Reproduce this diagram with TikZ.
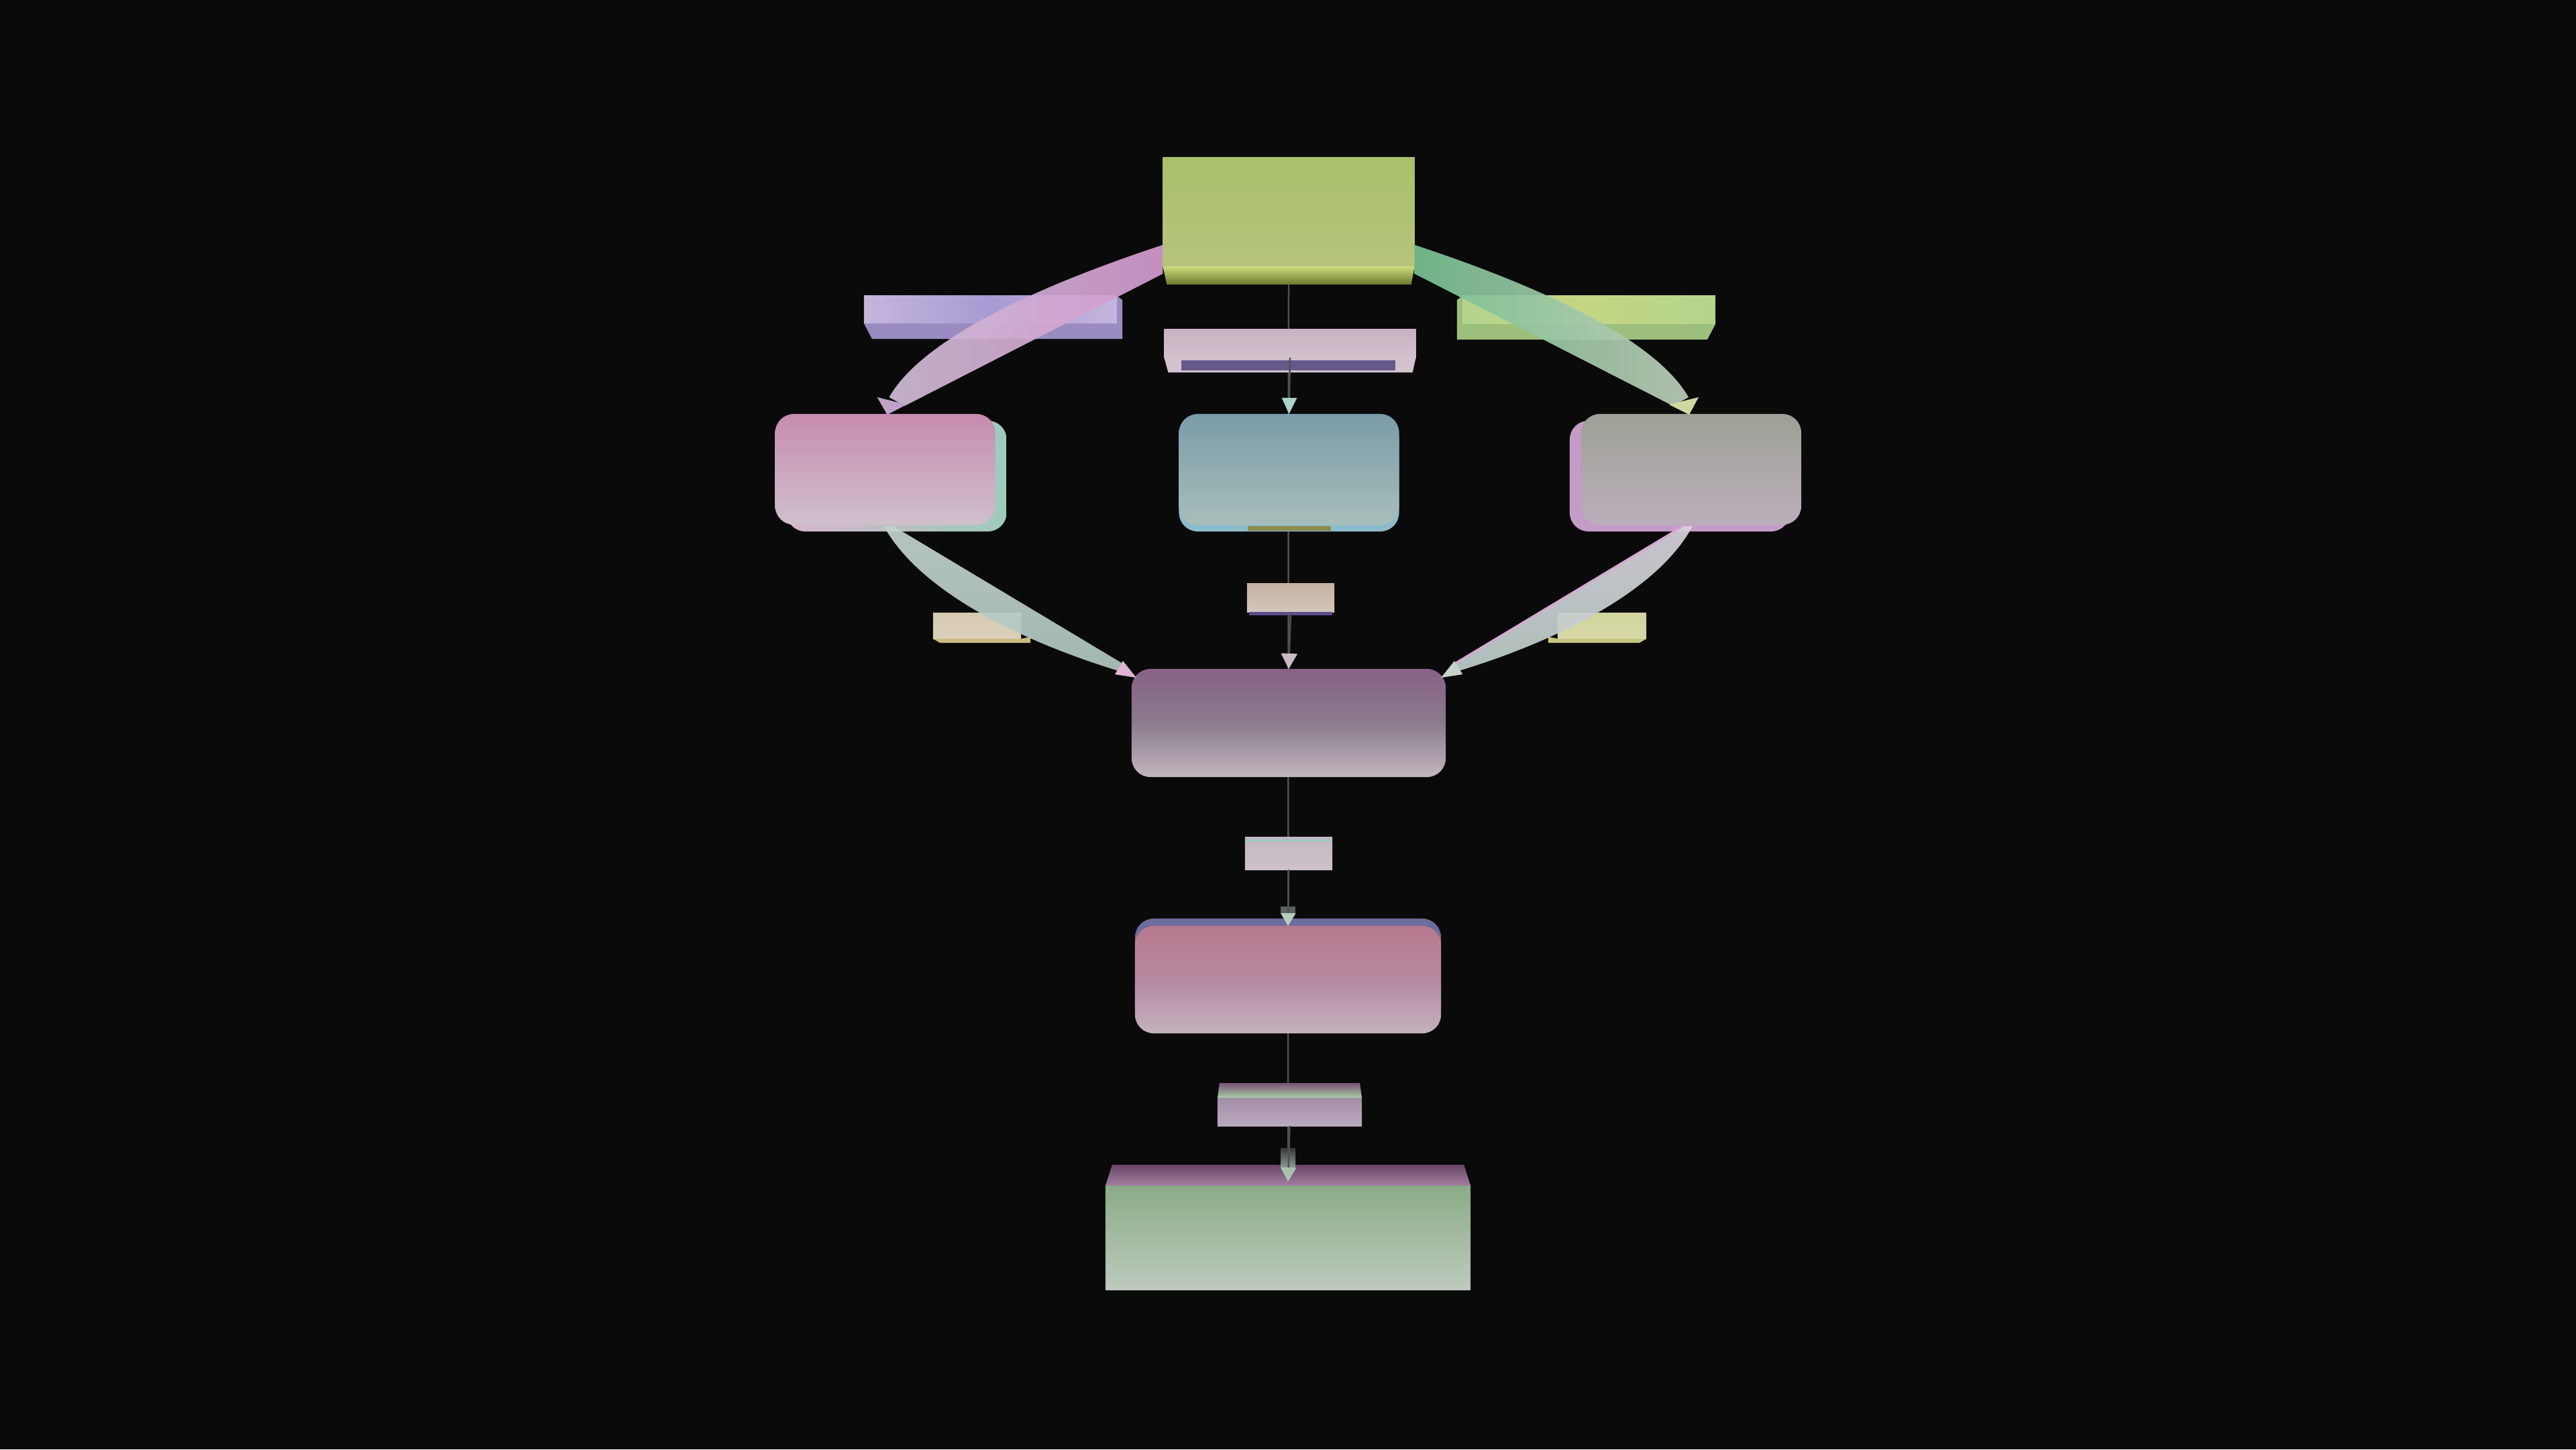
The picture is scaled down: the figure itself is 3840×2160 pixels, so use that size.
\documentclass[tikz,border=0pt]{standalone}
\usetikzlibrary{arrows.meta,positioning,calc}

\pgfdeclarelayer{behind}
\pgfsetlayers{behind,main}

\definecolor{bgblack}{HTML}{0A0A0A}
\definecolor{spinegray}{HTML}{505050}
\definecolor{srcA}{HTML}{A9C06A}
\definecolor{srcB}{HTML}{B6C47E}
\definecolor{srcEdge}{HTML}{CCDC7C}
\definecolor{srcDark}{HTML}{6A7A30}
\definecolor{lblA}{HTML}{C6B2C0}
\definecolor{lblB}{HTML}{D2C2CE}
\definecolor{lblPurple}{HTML}{66588A}
\definecolor{barLavL}{HTML}{C4B6DC}
\definecolor{barLavM}{HTML}{A89AD2}
\definecolor{barLavD}{HTML}{9A8CC0}
\definecolor{barGrnL}{HTML}{B4D48C}
\definecolor{barGrnM}{HTML}{C4D682}
\definecolor{barGrnD}{HTML}{9CC07C}
\definecolor{pinkA}{HTML}{C68CAE}
\definecolor{pinkB}{HTML}{D0C0CC}
\definecolor{pinkBack}{HTML}{D8B4CC}
\definecolor{pinkEdge}{HTML}{9CCCBC}
\definecolor{blueA}{HTML}{7A9CA8}
\definecolor{blueB}{HTML}{A8BEBA}
\definecolor{blueBack}{HTML}{8CBCCC}
\definecolor{oliveStrip}{HTML}{8C8C4E}
\definecolor{grayA}{HTML}{9EA096}
\definecolor{grayB}{HTML}{BAAEBA}
\definecolor{grayBack}{HTML}{C49CC8}
\definecolor{beigeA}{HTML}{C6B2A2}
\definecolor{beigeB}{HTML}{D2C6BA}
\definecolor{beigeStrip}{HTML}{5C4C8C}
\definecolor{sandA}{HTML}{D6CAB2}
\definecolor{sandB}{HTML}{CABA82}
\definecolor{limeA}{HTML}{D2D49E}
\definecolor{limeB}{HTML}{C6C47E}
\definecolor{plumA}{HTML}{886288}
\definecolor{plumM}{HTML}{8A7C8C}
\definecolor{plumB}{HTML}{C2B6BE}
\definecolor{roseA}{HTML}{B67A8E}
\definecolor{roseM}{HTML}{B68AA0}
\definecolor{roseB}{HTML}{C2B2BE}
\definecolor{roseBack}{HTML}{6E6C9C}
\definecolor{lilacA}{HTML}{A28CA6}
\definecolor{lilacB}{HTML}{BAAABE}
\definecolor{lilacTopA}{HTML}{7A5278}
\definecolor{lilacTopB}{HTML}{A8CCA4}
\definecolor{mossA}{HTML}{8AAC86}
\definecolor{mossB}{HTML}{BECABE}
\definecolor{mossTopA}{HTML}{6A4668}
\definecolor{mossTopB}{HTML}{A27E9E}
\definecolor{mtwoA}{HTML}{C4B6C0}
\definecolor{mtwoB}{HTML}{CCC2CA}
\definecolor{mtwoEdge}{HTML}{9CC8C0}
\definecolor{ribLA}{HTML}{D0BCD6}
\definecolor{ribLB}{HTML}{D29ACE}
\definecolor{ribRA}{HTML}{78C090}
\definecolor{ribRB}{HTML}{BCCCB8}
\definecolor{ribPaleA}{HTML}{C2D2CC}
\definecolor{ribPaleB}{HTML}{AEC6BE}
\definecolor{ribGreyA}{HTML}{D6D2DA}
\definecolor{ribGreyB}{HTML}{BCCCC8}
\definecolor{ribEdge}{HTML}{D8A8D4}
\definecolor{tipL}{HTML}{C0A2C8}
\definecolor{tipR}{HTML}{CCD8A0}
\definecolor{tipLL}{HTML}{E0B4D6}
\definecolor{tipRR}{HTML}{C6D2CC}
\definecolor{tipTeal}{HTML}{A8D2CC}
\definecolor{tipGray}{HTML}{CABAC6}
\definecolor{tipMint}{HTML}{B6CEC2}
\definecolor{tipOut}{HTML}{A6C4AC}
\definecolor{stubA}{HTML}{3C3C3C}
\definecolor{stubB}{HTML}{8C9A92}

\tikzset{
	slab/.style={rectangle, draw=none, inner sep=0pt, outer sep=0pt},
	tile/.style={slab, rounded corners=0.28cm},
	spine/.style={draw=spinegray, line width=0.025cm},
	ribbon/.style={opacity=0.93},
}

\begin{document}
\begin{tikzpicture}[x=0.01cm, y=-0.01cm]
		% Background
		\begin{pgfonlayer}{behind}
			\fill[bgblack] (0,0) rectangle (3840,2160);
		\end{pgfonlayer}
		\useasboundingbox (0,0) rectangle (3840,2160);
		
		% Source block
		\node[slab, top color=srcA, bottom color=srcB, minimum width=3.75cm, minimum height=1.62cm] (src) at (1921,316) {};
		\shade[top color=srcEdge, bottom color=srcDark] (src.south west) -- (src.south east) -- ($(src.south east)+(-5,27)$) -- ($(src.south west)+(6,27)$) -- cycle;
		
		% Label slabs below the source
		\node[slab, top color=lblA, bottom color=lblB, minimum width=3.75cm, minimum height=0.42cm] (lbltop) at (1923,512) {};
		\fill[lblB] (lbltop.south west) -- (lbltop.south east) -- ($(lbltop.south east)+(-5,22)$) -- ($(lbltop.south west)+(6,22)$) -- cycle;
		\fill[lblPurple] ($(lbltop.south west)+(26,4)$) rectangle ($(lbltop.south east)+(-31,19)$);
		
		\node[slab, left color=barLavL, right color=barLavL, middle color=barLavM, minimum width=3.77cm, minimum height=0.41cm] (lblL) at (1476.5,461.5) {};
		\fill[barLavD] (lblL.south west) -- (lblL.south east) -- (lblL.north east) -- ($(lblL.north east)+(8,6)$) -- ($(lblL.south east)+(8,23)$) -- ($(lblL.south west)+(12,23)$) -- cycle;
		
		\node[slab, left color=barGrnL, right color=barGrnL, middle color=barGrnM, minimum width=3.77cm, minimum height=0.42cm] (lblR) at (2368.5,462) {};
		\fill[barGrnD] (lblR.south east) -- (lblR.south west) -- (lblR.north west) -- ($(lblR.north west)+(-8,6)$) -- ($(lblR.south west)+(-8,23)$) -- ($(lblR.south east)+(-12,23)$) -- cycle;
		
		% Middle row of rounded blocks
		\foreach \n/\x/\ca/\cb in {lft/1319.5/pinkA/pinkB, mid/1921.5/blueA/blueB, rgt/2521/grayA/grayB} {
			\node[tile, top color=\ca, bottom color=\cb, minimum width=3.28cm, minimum height=1.65cm] (\n) at (\x,699.5) {};
		}
		\fill[oliveStrip] ($(mid.south)+(-62,2)$) rectangle ($(mid.south)+(62,9)$);
		
		% Lower label slabs
		\node[slab, top color=beigeA, bottom color=beigeB, minimum width=1.30cm, minimum height=0.43cm] (lblc) at (1924,890.5) {};
		\fill[beigeStrip] ($(lblc.south west)+(3,0)$) rectangle ($(lblc.south east)+(-3,5)$);
		
		\node[slab, top color=sandA, bottom color=sandA!90!white, minimum width=1.31cm, minimum height=0.39cm] (lblLL) at (1456.5,932.5) {};
		\fill[sandB] (lblLL.south west) -- (lblLL.south east) -- ($(lblLL.south east)+(14,-3)$) -- ($(lblLL.south east)+(14,6)$) -- ($(lblLL.south west)+(10,6)$) -- cycle;
		
		\node[slab, top color=limeA, bottom color=limeA!90!white, minimum width=1.32cm, minimum height=0.39cm] (lblRR) at (2388,932.5) {};
		\fill[limeB] (lblRR.south east) -- (lblRR.south west) -- ($(lblRR.south west)+(-14,-3)$) -- ($(lblRR.south west)+(-14,6)$) -- ($(lblRR.south east)+(-10,6)$) -- cycle;
		
		% Merge block
		\node[tile, top color=plumA, bottom color=plumB, middle color=plumM, minimum width=4.68cm, minimum height=1.61cm] (merge) at (1921,1077.5) {};
		
		\node[slab, top color=mtwoA, bottom color=mtwoB, minimum width=1.30cm, minimum height=0.49cm] (lblm2) at (1921,1271.5) {};
		\draw[mtwoEdge, line width=0.03cm] ($(lblm2.north west)+(0,5)$) -- ($(lblm2.north east)+(0,5)$);
		
		% Refine block
		\node[tile, top color=roseA, bottom color=roseB, middle color=roseM, minimum width=4.56cm, minimum height=1.60cm] (refine) at (1920,1460) {};
		
		\node[slab, top color=lilacA, bottom color=lilacB, minimum width=2.15cm, minimum height=0.42cm] (lblm3) at (1922.5,1657) {};
		\shade[top color=lilacTopA, bottom color=lilacTopB] (lblm3.north west) -- (lblm3.north east) -- ($(lblm3.north east)+(-3,-22)$) -- ($(lblm3.north west)+(3,-22)$) -- cycle;
		
		% Output block
		\node[slab, top color=mossA, bottom color=mossB, minimum width=5.44cm, minimum height=1.55cm] (output) at (1920,1844.5) {};
		\shade[top color=mossTopA, bottom color=mossTopB] (output.north west) -- (output.north east) -- ($(output.north east)+(-10,-31)$) -- ($(output.north west)+(10,-31)$) -- cycle;
		
		% Curved ribbons from the source
		\shade[ribbon, left color=ribLA, right color=ribLB] ($(src.west)+(0,49)$) .. controls (1530,432) and (1372,510) .. ($(lft.north)+(6,-25)$) -- ($(lft.north)+(29,-12)$) -- ($(src.west)+(0,92)$) -- cycle;
		\shade[ribbon, left color=ribRA, right color=ribRB] ($(src.east)+(0,49)$) .. controls (2312,432) and (2470,510) .. ($(rgt.north)+(-4,-25)$) -- ($(rgt.north)+(-27,-12)$) -- ($(src.east)+(0,92)$) -- cycle;
		\fill[tipL] ($(lft.north)+(-12,-25)$) -- ($(lft.north)+(32,-14)$) -- ($(lft.north)+(3,1)$) -- cycle;
		\fill[tipR] ($(rgt.north)+(11,-25)$) -- ($(rgt.north)+(-33,-14)$) -- ($(rgt.north)+(-3,1)$) -- cycle;
		
		% Curved ribbons into the merge block
		\shade[ribbon, top color=ribPaleA, bottom color=ribPaleB] ($(lft.south)+(-2,2)$) .. controls (1370,880) and (1520,955) .. ($(merge.north west)+(-19,3)$) -- ($(merge.north west)+(-15,-9)$) -- ($(lft.south)+(12,2)$) -- cycle;
		\shade[ribbon, top color=ribGreyA, bottom color=ribGreyB] ($(rgt.south)+(2,2)$) .. controls (2472,880) and (2322,955) .. ($(merge.north east)+(19,3)$) -- ($(merge.north east)+(15,-9)$) -- ($(rgt.south)+(-12,2)$) -- cycle;
		\draw[ribEdge, line width=0.03cm] ($(merge.north east)+(15,-9)$) -- ($(rgt.south)+(-12,2)$);
		\fill[tipLL] ($(merge.north west)+(-13,-12)$) -- ($(merge.north west)+(-25,8)$) -- ($(merge.north west)+(7,13)$) -- cycle;
		\fill[tipRR] ($(merge.north east)+(13,-12)$) -- ($(merge.north east)+(25,8)$) -- ($(merge.north east)+(-7,13)$) -- cycle;
		
		% Straight flow down the spine
		\draw[spine, -{Triangle[length=0.24cm, width=0.22cm, color=tipTeal]}] (lbltop.south) -- (mid.north);
		\draw[spine, -{Triangle[length=0.23cm, width=0.24cm, color=tipGray]}] (lblc.south) -- (merge.north);
		\fill[stubA!60!stubB] ($(refine.north)+(-11,-29)$) rectangle ($(refine.north)+(11,-18)$);
		\draw[spine, -{Triangle[length=0.19cm, width=0.22cm, color=tipMint]}] (lblm2.south) -- (refine.north);
		\shade[top color=stubA, bottom color=stubB] ($(output.north)+(-11,-55)$) rectangle ($(output.north)+(11,-27)$);
		\draw[spine, -{Triangle[length=0.21cm, width=0.23cm, color=tipOut]}] (lblm3.south) -- ($(output.north)+(0,-6)$);
		
		% Back faces and spine line
		\begin{pgfonlayer}{behind}
			\draw[spine] (src.south) -- (output.north);
			\shade[rounded corners=0.28cm, left color=pinkBack, right color=pinkEdge] ($(lft.north west)+(17,10)$) rectangle ($(lft.south east)+(17,10)$);
			\fill[blueBack, rounded corners=0.28cm] ($(mid.north west)+(0,10)$) rectangle ($(mid.south east)+(0,10)$);
			\fill[grayBack, rounded corners=0.28cm] ($(rgt.north west)+(-17,10)$) rectangle ($(rgt.south east)+(-17,10)$);
			\fill[roseBack, rounded corners=0.28cm] ($(refine.north west)+(0,-11)$) rectangle ($(refine.south east)+(0,-11)$);
		\end{pgfonlayer}
	\end{tikzpicture}
\end{document}
